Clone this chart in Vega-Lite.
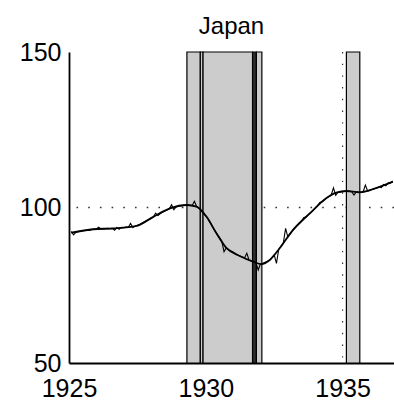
{
  "$schema": "https://vega.github.io/schema/vega-lite/v6.json",
  "width": 325,
  "height": 311,
  "autosize": {"type": "none"},
  "padding": {"left": 69, "top": 52, "right": 0, "bottom": 43},
  "background": "white",
  "config": {
    "view": {"stroke": null},
    "font": "Liberation Sans",
    "axis": {"labelFont": "Liberation Sans", "labelFontSize": 25, "labelColor": "black", "ticks": false, "grid": false, "domainColor": "black", "domainWidth": 1.8, "title": null, "labelFlush": false, "labelPadding": 8},
    "axisX": {"labelPadding": 13}
  },
  "title": {"text": "Japan", "font": "Liberation Sans", "fontSize": 24, "fontWeight": "normal", "color": "black", "offset": 18, "baseline": "alphabetic", "dy": 36},
  "datasets": {
    "hrefs": [{"v": 100}],
    "vrefs": [{"t": 1935}],
    "bands": [
      {"start": 1929.31, "end": 1929.80, "kind": "gray"},
      {"start": 1929.80, "end": 1929.90, "kind": "gray"},
      {"start": 1929.90, "end": 1931.71, "kind": "gray"},
      {"start": 1931.71, "end": 1931.85, "kind": "dark"},
      {"start": 1931.85, "end": 1932.05, "kind": "gray"},
      {"start": 1935.14, "end": 1935.63, "kind": "gray"}
    ],
    "smooth": [
      {"t": 1925.08, "v": 91.9}, {"t": 1925.89, "v": 93.0}, {"t": 1926.62, "v": 93.3}, {"t": 1927.47, "v": 94.1},
      {"t": 1928.08, "v": 97.0}, {"t": 1928.69, "v": 99.7}, {"t": 1929.30, "v": 100.8}, {"t": 1929.66, "v": 100.3},
      {"t": 1930.03, "v": 97.0}, {"t": 1930.39, "v": 91.7}, {"t": 1930.76, "v": 86.9}, {"t": 1931.24, "v": 84.4},
      {"t": 1931.73, "v": 82.6}, {"t": 1932.03, "v": 81.8}, {"t": 1932.34, "v": 83.1}, {"t": 1932.70, "v": 86.9},
      {"t": 1933.19, "v": 92.8}, {"t": 1933.80, "v": 98.1}, {"t": 1934.40, "v": 103.0}, {"t": 1934.77, "v": 104.8},
      {"t": 1935.14, "v": 105.3}, {"t": 1935.62, "v": 104.9}, {"t": 1936.11, "v": 105.9}, {"t": 1936.84, "v": 108.3}
    ],
    "monthly": [
      {"t": 1925.083, "v": 92.3}, {"t": 1925.167, "v": 91.2}, {"t": 1925.25, "v": 92.0}, {"t": 1925.333, "v": 92.2},
      {"t": 1925.417, "v": 92.4}, {"t": 1925.5, "v": 92.5}, {"t": 1925.583, "v": 92.6}, {"t": 1925.667, "v": 92.7},
      {"t": 1925.75, "v": 92.6}, {"t": 1925.833, "v": 93.0}, {"t": 1925.917, "v": 93.0}, {"t": 1926.0, "v": 93.1},
      {"t": 1926.083, "v": 93.7}, {"t": 1926.167, "v": 93.1}, {"t": 1926.25, "v": 93.2}, {"t": 1926.333, "v": 93.2},
      {"t": 1926.417, "v": 93.3}, {"t": 1926.5, "v": 93.2}, {"t": 1926.583, "v": 93.3}, {"t": 1926.667, "v": 92.7},
      {"t": 1926.75, "v": 93.6}, {"t": 1926.833, "v": 93.0}, {"t": 1926.917, "v": 93.6}, {"t": 1927.0, "v": 93.5},
      {"t": 1927.083, "v": 93.7}, {"t": 1927.167, "v": 93.6}, {"t": 1927.25, "v": 94.9}, {"t": 1927.333, "v": 93.6},
      {"t": 1927.417, "v": 94.0}, {"t": 1927.5, "v": 94.3}, {"t": 1927.583, "v": 94.6}, {"t": 1927.667, "v": 95.0},
      {"t": 1927.75, "v": 95.4}, {"t": 1927.833, "v": 95.8}, {"t": 1927.917, "v": 96.2}, {"t": 1928.0, "v": 96.6},
      {"t": 1928.083, "v": 96.9}, {"t": 1928.167, "v": 98.2}, {"t": 1928.25, "v": 97.4}, {"t": 1928.333, "v": 98.0},
      {"t": 1928.417, "v": 98.5}, {"t": 1928.5, "v": 98.9}, {"t": 1928.583, "v": 99.2}, {"t": 1928.667, "v": 99.6},
      {"t": 1928.75, "v": 100.9}, {"t": 1928.833, "v": 99.3}, {"t": 1928.917, "v": 100.2}, {"t": 1929.0, "v": 100.4},
      {"t": 1929.083, "v": 100.5}, {"t": 1929.167, "v": 100.6}, {"t": 1929.25, "v": 100.7}, {"t": 1929.333, "v": 100.8},
      {"t": 1929.417, "v": 100.7}, {"t": 1929.5, "v": 100.6}, {"t": 1929.583, "v": 102.0}, {"t": 1929.667, "v": 100.3},
      {"t": 1929.75, "v": 99.8}, {"t": 1929.833, "v": 99.0}, {"t": 1929.917, "v": 98.0}, {"t": 1930.0, "v": 97.3},
      {"t": 1930.083, "v": 96.2}, {"t": 1930.167, "v": 95.0}, {"t": 1930.25, "v": 93.7}, {"t": 1930.333, "v": 92.5},
      {"t": 1930.417, "v": 91.3}, {"t": 1930.5, "v": 90.3}, {"t": 1930.583, "v": 89.2}, {"t": 1930.667, "v": 85.8},
      {"t": 1930.75, "v": 87.1}, {"t": 1930.833, "v": 86.5}, {"t": 1930.917, "v": 86.1}, {"t": 1931.0, "v": 85.7},
      {"t": 1931.083, "v": 85.2}, {"t": 1931.167, "v": 84.8}, {"t": 1931.25, "v": 84.4}, {"t": 1931.333, "v": 84.1},
      {"t": 1931.417, "v": 83.8}, {"t": 1931.5, "v": 85.3}, {"t": 1931.583, "v": 83.1}, {"t": 1931.667, "v": 82.8},
      {"t": 1931.75, "v": 82.6}, {"t": 1931.833, "v": 82.3}, {"t": 1931.917, "v": 79.9}, {"t": 1932.0, "v": 81.9},
      {"t": 1932.083, "v": 82.0}, {"t": 1932.167, "v": 82.4}, {"t": 1932.25, "v": 82.7}, {"t": 1932.333, "v": 83.1},
      {"t": 1932.417, "v": 83.9}, {"t": 1932.5, "v": 84.8}, {"t": 1932.583, "v": 82.0}, {"t": 1932.667, "v": 86.6},
      {"t": 1932.75, "v": 87.5}, {"t": 1932.833, "v": 88.5}, {"t": 1932.917, "v": 93.3}, {"t": 1933.0, "v": 90.5},
      {"t": 1933.083, "v": 91.5}, {"t": 1933.167, "v": 92.5}, {"t": 1933.25, "v": 93.3}, {"t": 1933.333, "v": 94.1},
      {"t": 1933.417, "v": 94.8}, {"t": 1933.5, "v": 95.5}, {"t": 1933.583, "v": 96.8}, {"t": 1933.667, "v": 96.9},
      {"t": 1933.75, "v": 97.6}, {"t": 1933.833, "v": 98.3}, {"t": 1933.917, "v": 99.0}, {"t": 1934.0, "v": 99.7},
      {"t": 1934.083, "v": 100.4}, {"t": 1934.167, "v": 101.6}, {"t": 1934.25, "v": 101.8}, {"t": 1934.333, "v": 102.4},
      {"t": 1934.417, "v": 103.1}, {"t": 1934.5, "v": 103.5}, {"t": 1934.583, "v": 104.0}, {"t": 1934.667, "v": 106.3},
      {"t": 1934.75, "v": 103.9}, {"t": 1934.833, "v": 104.9}, {"t": 1934.917, "v": 105.0}, {"t": 1935.0, "v": 105.1},
      {"t": 1935.083, "v": 105.2}, {"t": 1935.167, "v": 105.3}, {"t": 1935.25, "v": 105.2}, {"t": 1935.333, "v": 105.1},
      {"t": 1935.417, "v": 104.0}, {"t": 1935.5, "v": 105.0}, {"t": 1935.583, "v": 104.9}, {"t": 1935.667, "v": 104.9},
      {"t": 1935.75, "v": 105.0}, {"t": 1935.833, "v": 107.2}, {"t": 1935.917, "v": 105.3}, {"t": 1936.0, "v": 105.5},
      {"t": 1936.083, "v": 105.8}, {"t": 1936.167, "v": 106.0}, {"t": 1936.25, "v": 106.3}, {"t": 1936.333, "v": 106.6},
      {"t": 1936.417, "v": 106.4}, {"t": 1936.5, "v": 107.4}, {"t": 1936.583, "v": 107.0}, {"t": 1936.667, "v": 107.9},
      {"t": 1936.75, "v": 107.8}, {"t": 1936.833, "v": 108.5}
    ]
  },
  "layer": [
    {
      "data": {"name": "hrefs"},
      "mark": {"type": "rule", "stroke": "#333333", "strokeWidth": 1.3, "strokeDash": [1.6, 10.1], "strokeCap": "butt"},
      "encoding": {"y": {"field": "v", "type": "quantitative", "scale": {"domain": [50, 150], "nice": false, "zero": false}}}
    },
    {
      "data": {"name": "vrefs"},
      "mark": {"type": "rule", "stroke": "#333333", "strokeWidth": 1.2, "strokeDash": [1.4, 10.3], "strokeCap": "butt"},
      "encoding": {"x": {"field": "t", "type": "quantitative"}}
    },
    {
      "data": {"name": "bands"},
      "mark": {"type": "rect", "stroke": "black", "strokeWidth": 1.2},
      "encoding": {
        "x": {"field": "start", "type": "quantitative"},
        "x2": {"field": "end"},
        "color": {"field": "kind", "type": "nominal", "scale": {"domain": ["gray", "dark"], "range": ["#cccccc", "#2e2e2e"]}, "legend": null}
      }
    },
    {
      "data": {"name": "monthly"},
      "mark": {"type": "line", "color": "black", "strokeWidth": 1.1},
      "encoding": {
        "x": {"field": "t", "type": "quantitative"},
        "y": {"field": "v", "type": "quantitative"}
      }
    },
    {
      "data": {"name": "smooth"},
      "mark": {"type": "line", "color": "black", "strokeWidth": 1.8, "interpolate": "monotone"},
      "encoding": {
        "x": {"field": "t", "type": "quantitative"},
        "y": {"field": "v", "type": "quantitative"}
      }
    },
    {
      "mark": {"type": "rule", "color": "black", "strokeWidth": 1.8},
      "encoding": {"y": {"datum": 150, "type": "quantitative"}}
    },
    {
      "data": {"name": "monthly"},
      "mark": {"type": "point", "opacity": 0},
      "encoding": {
        "x": {"field": "t", "type": "quantitative", "scale": {"domain": [1925, 1936.88], "nice": false, "zero": false}, "axis": {"values": [1925, 1930, 1935], "format": "d"}},
        "y": {"field": "v", "type": "quantitative", "axis": {"values": [50, 100, 150]}}
      }
    }
  ]
}
